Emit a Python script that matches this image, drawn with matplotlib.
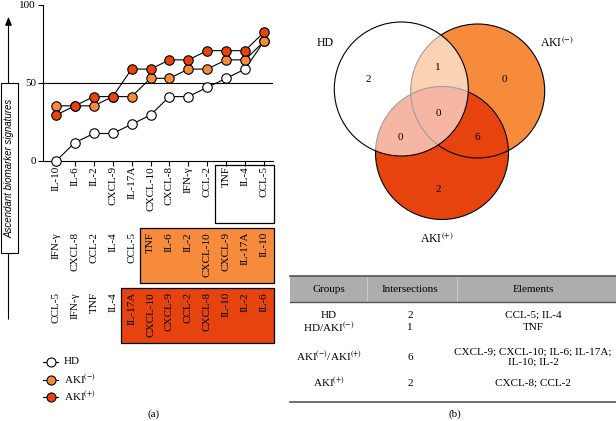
import matplotlib
matplotlib.use("Agg")
import matplotlib.pyplot as plt
from matplotlib.patches import Rectangle, Circle
from matplotlib.transforms import blended_transform_factory

plt.rcParams['font.family'] = ['Liberation Serif', 'DejaVu Serif']
plt.rcParams['mathtext.fontset'] = 'stix'

# ---------------- data ----------------
hd_order = ["IL-10", "IL-6", "IL-2", "CXCL-9", "IL-17A", "CXCL-10", "CXCL-8",
            "IFN-γ", "CCL-2", "TNF", "IL-4", "CCL-5"]
akineg_order = ["IFN-γ", "CXCL-8", "CCL-2", "IL-4", "CCL-5", "TNF", "IL-6",
                "IL-2", "CXCL-10", "CXCL-9", "IL-17A", "IL-10"]
akipos_order = ["CCL-5", "IFN-γ", "TNF", "IL-4", "IL-17A", "CXCL-10", "CXCL-9",
                "CCL-2", "CXCL-8", "IL-10", "IL-2", "IL-6"]
hd_values = [0, 11.8, 17.6, 17.6, 23.5, 29.4, 41.2, 41.2, 47.1, 52.9, 58.8, 76.5]
akineg_values = [35.3, 35.3, 35.3, 41.2, 41.2, 52.9, 52.9, 58.8, 58.8, 64.7, 64.7, 76.5]
akipos_values = [29.4, 35.3, 41.2, 41.2, 58.8, 58.8, 64.7, 64.7, 70.6, 70.6, 70.6, 82.4]
box_start = {"HD": 9, "AKI-": 5, "AKI+": 4}

venn_counts = {"HD": 2, "AKIneg": 0, "AKIpos": 2, "HD_AKIneg": 1, "HD_AKIpos": 0,
               "AKIneg_AKIpos": 6, "all": 0}

table_groups = ["HD", "HD/AKI$^{(-)}$", "AKI$^{(-)}$/AKI$^{(+)}$", "AKI$^{(+)}$"]
table_inter = [2, 1, 6, 2]
table_elems = ["CCL-5; IL-4", "TNF", "CXCL-9; CXCL-10; IL-6; IL-17A;\nIL-10; IL-2",
               "CXCL-8; CCL-2"]

ORANGE = "#F68B3C"
RED = "#E6430F"
W, H = 616, 421

fig = plt.figure(figsize=(W / 100, H / 100), dpi=100)

# overlay axes in pixel coordinates
ov = fig.add_axes([0, 0, 1, 1])
ov.set_xlim(0, W)
ov.set_ylim(H, 0)
ov.axis("off")

# ---------------- panel (a) ----------------
ax = fig.add_axes([43 / W, (H - 161) / H, 230 / W, 156.3 / H])
x = list(range(len(hd_order)))
ax.set_xlim(-0.69, 11.48)
ax.set_ylim(0, 100)
ms = 6.8
ax.plot(x, hd_values, "-o", color="black", lw=0.8, mfc="white", mec="black",
        mew=0.8, ms=ms, clip_on=False, zorder=3)
ax.plot(x, akineg_values, "-o", color="black", lw=0.8, mfc=ORANGE, mec="black",
        mew=0.8, ms=ms, clip_on=False, zorder=4)
ax.plot(x, akipos_values, "-o", color="black", lw=0.8, mfc=RED, mec="black",
        mew=0.8, ms=ms, clip_on=False, zorder=5)
ax.axhline(50, color="black", lw=0.8, zorder=1)
for s in ["top", "right"]:
    ax.spines[s].set_visible(False)
for s in ["left", "bottom"]:
    ax.spines[s].set_linewidth(0.8)
ax.set_yticks([0, 50, 100])
ax.set_yticklabels(["0", "50", "100"], fontsize=8)
ax.set_xticks(x)
ax.set_xticklabels([])
ax.tick_params(axis="both", length=3.5, width=0.8, direction="out", pad=1.5)
ax.patch.set_alpha(0)

bt = blended_transform_factory(ax.transData, ov.transData)
rows = [(hd_order, 166, 165, 223, "white", box_start["HD"]),
        (akineg_order, 232, 228, 283, ORANGE, box_start["AKI-"]),
        (akipos_order, 292, 288, 343, RED, box_start["AKI+"])]
for labels, ytop, by0, by1, col, start in rows:
    ov.add_patch(Rectangle((start - 0.58, by0), 11.55 - (start - 0.58), by1 - by0,
                           transform=bt, facecolor=col, edgecolor="black",
                           lw=0.9, zorder=1))
    for i, lab in enumerate(labels):
        ov.text(i, ytop, lab, transform=bt, rotation=90, ha="center", va="top",
                fontsize=8, zorder=2)

# y-axis label box with arrow
ov.annotate("", xy=(8.5, 14), xytext=(8.5, 322),
            arrowprops=dict(arrowstyle="-|>,head_length=0.5,head_width=0.2",
                            color="black", lw=0.8))
ov.add_patch(Rectangle((1, 83), 16.5, 170, facecolor="white", edgecolor="black",
                       lw=0.8, zorder=3))
ov.text(9.3, 168, "Ascendant biomarker signatures", rotation=90, ha="center",
        va="center", fontsize=7, style="italic", family="Liberation Sans", zorder=4)

# legend
for yy, fc, lab in [(362, "white", "HD"), (380, ORANGE, "AKI$^{(-)}$"),
                    (397, RED, "AKI$^{(+)}$")]:
    ov.plot([43, 58], [yy, yy], color="black", lw=0.8)
    ov.plot([50.5], [yy], "o", mfc=fc, mec="black", mew=0.8, ms=6.5)
    ov.text(64, yy, lab, ha="left", va="center", fontsize=8)
ov.text(154, 414, "(a)", ha="center", va="center", fontsize=8)

# ---------------- panel (b) Venn ----------------
cen_hd, r_hd = (401.3, 89), 67
cen_neg, r_neg = (477.7, 91), 67
cen_pos, r_pos = (442, 153), 66.5
ov.add_patch(Circle(cen_neg, r_neg, facecolor=ORANGE, edgecolor="none", zorder=2))
ov.add_patch(Circle(cen_pos, r_pos, facecolor=RED, edgecolor="none", zorder=3))
ov.add_patch(Circle(cen_neg, r_neg, facecolor="none", edgecolor="black", lw=0.8, zorder=3.5))
ov.add_patch(Circle(cen_pos, r_pos, facecolor="none", edgecolor="black", lw=0.8, zorder=3.6))
ov.add_patch(Circle(cen_hd, r_hd, facecolor="white", edgecolor="none", alpha=0.62, zorder=4))
ov.add_patch(Circle(cen_hd, r_hd, facecolor="none", edgecolor="black", lw=0.8, zorder=5))

ov.text(325, 43, "HD", ha="center", va="center", fontsize=8.5)
ov.text(557, 43, "AKI$^{(-)}$", ha="center", va="center", fontsize=8.5)
ov.text(437, 239, "AKI$^{(+)}$", ha="center", va="center", fontsize=8.5)
vpos = {"HD": (368, 79), "HD_AKIneg": (438, 68), "AKIneg": (504, 79),
        "all": (438, 114), "HD_AKIpos": (400, 137), "AKIneg_AKIpos": (477, 138),
        "AKIpos": (438, 190)}
for k, (px, py) in vpos.items():
    ov.text(px, py, str(venn_counts[k]), ha="center", va="center", fontsize=8, zorder=6)

# ---------------- table ----------------
ov.add_patch(Rectangle((290, 276), 326, 26, facecolor="#ADADAD", edgecolor="none", zorder=1))
for xs in [367, 457]:
    ov.plot([xs, xs], [277, 301], color="#D0D0D0", lw=0.6, zorder=2)
ov.plot([290, 616], [276, 276], color="#555555", lw=1.2, zorder=2)
ov.plot([290, 616], [302, 302], color="#555555", lw=1.0, zorder=2)
ov.plot([290, 616], [402, 402], color="#555555", lw=1.2, zorder=2)
cols_x = [329, 410, 533]
for cx, h in zip(cols_x, ["Groups", "Intersections", "Elements"]):
    ov.text(cx, 289, h, ha="center", va="center", fontsize=8, zorder=3)
row_y = [315, 328, 357, 383]
for yy, g, n, e in zip(row_y, table_groups, table_inter, table_elems):
    ov.text(cols_x[0], yy, g, ha="center", va="center", fontsize=8)
    ov.text(cols_x[1], yy, str(n), ha="center", va="center", fontsize=8)
    ov.text(cols_x[2], yy, e, ha="center", va="center", fontsize=8,
            linespacing=1.25, multialignment="center")
ov.text(455, 414, "(b)", ha="center", va="center", fontsize=8)

fig.savefig("out.png", dpi=100)
